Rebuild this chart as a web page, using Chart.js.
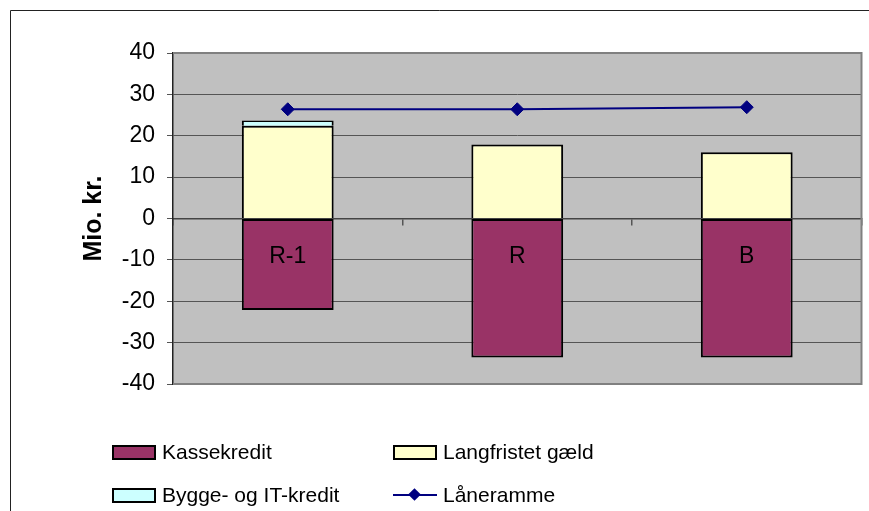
<!DOCTYPE html>
<html>
<head>
<meta charset="utf-8">
<script src="https://cdn.jsdelivr.net/npm/chart.js@4/dist/chart.umd.min.js"></script>
<style>
  html, body { margin: 0; padding: 0; background: #fff; }
  #wrap { position: relative; width: 869px; height: 511px; overflow: hidden; }
  #chart { position: absolute; left: 0; top: 0; }
  .legend-item {
    position: absolute;
    display: flex;
    align-items: center;
    font-family: 'Liberation Sans', Arial, sans-serif;
    font-size: 21px;
    color: #000;
    white-space: nowrap;
  }
  .swatch { width: 40px; height: 11px; border: 2px solid #000; margin-right: 6px; }
  .lineswatch { position: relative; width: 44px; height: 14px; margin-right: 6px; }
  .lineswatch .l { position: absolute; left: 0; right: 0; top: 6px; height: 2px; background: #000080; }
  .lineswatch .d { position: absolute; left: 17px; top: 2px; width: 9px; height: 9px; background: #000080; transform: rotate(45deg); }
</style>
</head>
<body>
<div id="wrap">
  <canvas id="chart" width="869" height="511"></canvas>
</div>
<script>
// chart data
const categories = ['R-1', 'R', 'B']
const kassekredit = [-22.1, -33.6, -33.6]
const langfristet = [22.4, 17.9, 16.0]
const byggeIt = [1.3, null, null]
const laaneramme = [26.4, 26.4, 26.9]
const yTicks = [-40, -30, -20, -10, 0, 10, 20, 30, 40]

const FONT = "'Liberation Sans', Arial, sans-serif"

// grey plot area with its border, plus the outer frame
const plotArea = {
  id: 'plotArea',
  beforeDraw(chart) {
    const { ctx, chartArea: a } = chart
    ctx.save()
    ctx.fillStyle = '#C0C0C0'
    ctx.fillRect(a.left, a.top, a.right - a.left, a.bottom - a.top)
    ctx.strokeStyle = '#222'
    ctx.lineWidth = 1
    ctx.beginPath()
    ctx.moveTo(10.5, chart.height)
    ctx.lineTo(10.5, 10.5)
    ctx.lineTo(chart.width, 10.5)
    ctx.stroke()
    ctx.restore()
  },
  beforeDatasetsDraw(chart) {
    const { ctx, chartArea: a } = chart
    ctx.save()
    ctx.strokeStyle = '#808080'
    ctx.lineWidth = 2
    ctx.beginPath()
    ctx.moveTo(a.left, a.top)
    ctx.lineTo(a.right, a.top)
    ctx.lineTo(a.right, a.bottom)
    ctx.lineTo(a.left, a.bottom)
    ctx.stroke()
    ctx.restore()
  }
}

// category names written inside the Kassekredit bars
const barLabels = {
  id: 'barLabels',
  afterDatasetsDraw(chart) {
    const { ctx } = chart
    const x = chart.scales.x
    const y = chart.scales.y
    ctx.save()
    ctx.font = '23px ' + FONT
    ctx.fillStyle = '#000'
    ctx.textAlign = 'center'
    ctx.textBaseline = 'middle'
    categories.forEach((c, i) => {
      ctx.fillText(c, x.getPixelForValue(i), y.getPixelForValue(0) + 38)
    })
    ctx.restore()
  }
}

const barStyle = {
  borderColor: '#000',
  borderSkipped: false,
  barPercentage: 0.4,
  categoryPercentage: 1.0,
  order: 1
}

const chart = new Chart(document.getElementById('chart'), {
  type: 'bar',
  data: {
    labels: categories,
    datasets: [
      { label: 'Kassekredit', data: kassekredit, backgroundColor: '#993366', borderWidth: 2, ...barStyle },
      {
        label: 'Langfristet gæld', data: langfristet, backgroundColor: '#FFFFCC',
        borderWidth: { top: 2, left: 2, right: 2, bottom: 0 }, ...barStyle
      },
      {
        label: 'Bygge- og IT-kredit', data: byggeIt, backgroundColor: '#CCFFFF',
        borderWidth: { top: 1.5, left: 2, right: 2, bottom: 0 }, ...barStyle
      },
      {
        type: 'line',
        label: 'Låneramme',
        data: laaneramme,
        stack: 'line',
        borderColor: '#000080',
        backgroundColor: '#000080',
        borderWidth: 2,
        pointStyle: 'rectRot',
        pointRadius: 6.5,
        pointBorderWidth: 1,
        fill: false,
        order: 0
      }
    ]
  },
  options: {
    responsive: false,
    animation: false,
    layout: { padding: { left: 79, top: 53, right: 7, bottom: 127 } },
    plugins: {
      legend: { display: false },
      tooltip: { enabled: false }
    },
    scales: {
      x: {
        stacked: true,
        position: { y: 0 },
        grid: {
          offset: true,
          drawOnChartArea: false,
          drawTicks: true,
          tickLength: 6,
          color: '#555',
          lineWidth: 1.5
        },
        border: { display: true, color: '#444', width: 1.5 },
        ticks: { display: false }
      },
      y: {
        stacked: true,
        min: -40,
        max: 40,
        afterBuildTicks(scale) {
          scale.ticks = yTicks.map(v => ({ value: v }))
        },
        afterFit(scale) {
          scale.width = 94
        },
        grid: { color: '#555', lineWidth: 1, tickLength: 6 },
        border: { display: true, color: '#222', width: 1.5 },
        ticks: {
          color: '#000',
          padding: 12,
          font: { family: FONT, size: 23 }
        },
        title: {
          display: true,
          text: 'Mio. kr.',
          color: '#000',
          padding: 0,
          font: { family: FONT, size: 25, weight: 'bold' }
        }
      }
    }
  },
  plugins: [plotArea, barLabels]
})

// legend in two rows, two columns, built from the datasets
const legendSpots = [
  { left: 112, top: 440 },
  { left: 393, top: 440 },
  { left: 112, top: 483 },
  { left: 393, top: 483 }
]
const wrap = document.getElementById('wrap')
chart.data.datasets.forEach((ds, i) => {
  const item = document.createElement('div')
  item.className = 'legend-item'
  item.style.left = legendSpots[i].left + 'px'
  item.style.top = legendSpots[i].top + 'px'
  const mark = document.createElement('div')
  if (ds.type === 'line') {
    mark.className = 'lineswatch'
    mark.innerHTML = '<div class="l"></div><div class="d"></div>'
  } else {
    mark.className = 'swatch'
    mark.style.background = ds.backgroundColor
  }
  const text = document.createElement('span')
  text.textContent = ds.label
  item.appendChild(mark)
  item.appendChild(text)
  wrap.appendChild(item)
})
</script>
</body>
</html>
